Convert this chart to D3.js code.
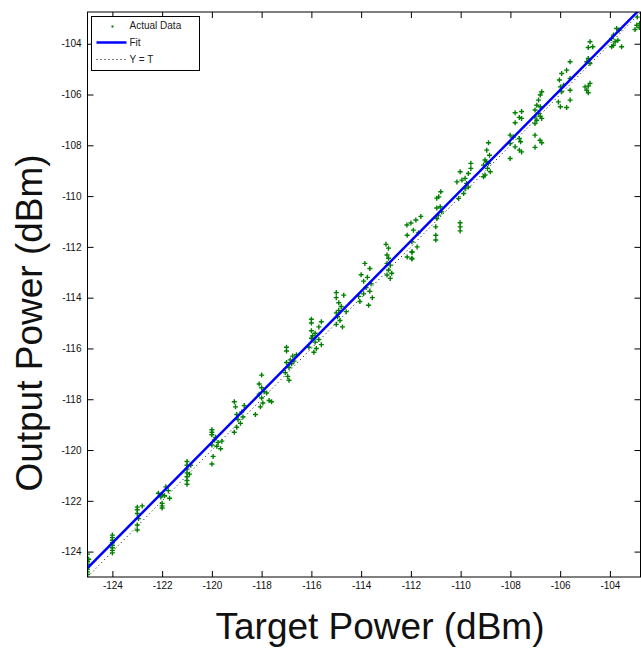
<!DOCTYPE html>
<html>
<head>
<meta charset="utf-8">
<script src="https://d3js.org/d3.v7.min.js"></script>
<style>
  body { margin: 0; background: #fff; }
  svg { display: block; font-family: "Liberation Sans", Arial, sans-serif; }
  .axis text { font-size: 10px; fill: #111; }
  .axis line { stroke: #000; }
</style>
</head>
<body>
<div id="graph"></div>
<script>
// axis range (dBm) and tick values
var axisMin = -125;
var axisMax = -102.75;
var tickValues = [-124, -122, -120, -118, -116, -114, -112, -110, -108, -106, -104];

// measured points: target power (x) and output power (y)
var targetPower = [
  -125, -125, -125, -125, -125, -125, -125, -124.95,
  -124, -124, -124, -124, -124, -124, -124, -124,
  -123, -123, -123, -122.95, -123, -123, -122.8,
  -122.15, -121.85, -122, -121.75, -122.05, -121.7, -122, -122, -122, -121.9,
  -121, -121, -121, -121, -121, -121, -121, -120.85, -120.9,
  -120, -120, -120, -119.9, -119.75, -119.6, -119.85, -120, -119.65, -119.95, -120, -119.8,
  -119.1, -119.05, -118.8, -119, -118.75, -118.95, -118.85, -119, -119.1, -118.25, -118.7,
  -118, -118.1, -118, -117.9, -118.1, -117.8, -118, -117.7, -117.6, -117.95, -118.05,
  -117, -117, -116.75, -116.6, -116.85, -117, -116.8, -116.9, -117.05, -116.95, -116.9, -116.7,
  -116, -116, -115.6, -115.7, -116, -115.85, -116, -115.7, -115.85, -116.1, -115.8, -115.9, -115.6, -115.95,
  -115, -114.7, -115, -114.9, -114.8, -114.9, -115, -114.95, -114.85, -115, -114.6, -114.75,
  -113.85, -113.65, -114, -113.75, -113.9, -113.6, -113.8, -113.65, -113.9, -113.55, -114.05, -113.7, -114.1,
  -112.96, -112.9, -112.96, -112.83, -112.9, -112.77, -112.96, -112.83, -113, -112.9,
  -112.16, -112, -112.15, -111.96, -111.9, -111.8, -111.6, -111.75, -112.15, -111.96, -111.95, -111.7, -111.96, -111.96,
  -110.8, -110.88, -110.96, -110.82, -110.96, -110.9, -110.76, -110.96, -111, -111, -111, -110.02, -110.02, -110.02,
  -110.02, -110.15, -109.95, -109.82, -109.69, -109.59, -109.59, -109.76, -109.82, -109.69, -110.08, -109.88,
  -108.88, -108.95, -108.84, -109.02, -108.88, -109.08, -108.92, -108.81, -109.02, -109.08, -108.97,
  -107.81, -107.64, -107.81, -108.01, -107.88, -107.64, -108.01, -107.81, -107.59, -107.64, -108.01, -107.55,
  -107.01, -106.81, -106.74, -107.01,
  -106.8, -106.74, -106.87, -106.94, -106.8, -107.01, -106.87, -107.01, -106.8, -106.94, -106.74, -107.01, -107.55, -107.55,
  -105.6, -105.74, -105.94, -106.03, -105.6, -105.99, -105.86, -105.6, -105.94, -106.07, -105.6, -105.99, -105.74,
  -104.8, -104.69, -104.87, -104.87, -104.93, -104.8, -105, -104.87, -104.93, -104.8, -104.87,
  -103.73, -103.63, -103.86, -103.93, -103.79, -103.93, -103.86, -103.53, -103.68,
  -102.92, -102.82, -102.99, -102.8, -102.9
];
var outputPower = [
  -124.1, -124.4, -124.5, -124.6, -124.7, -124.8, -124.9, -124.3,
  -123.35, -123.45, -123.55, -123.65, -123.75, -123.85, -123.95, -124.05,
  -122.25, -122.35, -122.5, -122.7, -122.95, -123.15, -122.2,
  -121.7, -121.45, -121.75, -121.6, -121.85, -121.9, -122.1, -122.2, -122.28, -121.8,
  -120.45, -120.6, -120.75, -120.9, -121.05, -121.2, -121.35, -120.6, -120.95,
  -119.2, -119.3, -119.4, -119.6, -119.7, -119.65, -119.5, -119.8, -119.95, -120.25, -120.55, -119.85,
  -118.1, -118.3, -118.5, -118.6, -118.7, -118.8, -118.95, -119.1, -119.3, -118.6, -118.25,
  -117.05, -117.4, -117.55, -117.7, -117.8, -117.75, -117.95, -118.05, -118.1, -118.15, -118.3,
  -115.95, -116.1, -116.3, -116.25, -116.45, -116.55, -116.6, -116.75, -116.95, -117.1, -117.25, -116.5,
  -114.85, -115.0, -114.95, -115.15, -115.3, -115.4, -115.6, -115.65, -115.75, -115.95, -116.0, -116.15, -115.85, -115.5,
  -113.8, -113.9, -114.0, -114.2, -114.35, -114.5, -114.6, -114.75, -114.9, -115.05, -114.55, -115.15,
  -112.65, -112.85, -113.1, -113.2, -113.35, -113.45, -113.6, -113.75, -113.85, -114.0, -114.15, -114.3, -113.95,
  -112.32, -112.45, -112.65, -112.72, -112.91, -113.04, -113.11, -113.24, -111.9, -112.05,
  -111.14, -111.06, -111.54, -111.8, -111.34, -110.94, -110.8, -112.0, -112.4, -112.48, -112.2, -111.45, -112.2, -112.45,
  -109.83, -110.03, -110.08, -110.42, -110.47, -110.75, -110.62, -110.88, -111.21, -111.54, -111.73, -111.05, -111.21, -111.37,
  -109.04, -109.44, -109.37, -109.3, -109.11, -108.71, -108.91, -109.5, -109.7, -109.64, -110.09, -109.9,
  -107.9, -108.19, -108.39, -108.58, -108.71, -108.78, -108.91, -109.04, -109.17, -109.24, -108.65,
  -106.72, -106.9, -107.11, -107.6, -107.67, -107.73, -107.93, -108.06, -107.86, -108.19, -108.52, -108.26,
  -107.6, -107.8, -107.9, -108.08,
  -106.02, -105.89, -106.22, -106.42, -106.48, -106.61, -106.74, -106.88, -106.85, -107.01, -106.94, -107.14, -106.67, -106.94,
  -104.71, -105.04, -105.17, -105.43, -105.37, -105.7, -105.63, -105.83, -105.89, -106.29, -106.22, -106.48, -106.51,
  -103.92, -104.12, -104.15, -104.58, -104.71, -104.78, -105.7, -105.67, -105.83, -105.56, -105.93,
  -103.4, -103.46, -103.66, -103.79, -103.92, -104.12, -104.06, -104.12, -103.86,
  -103.27, -103.36, -103.44, -103.2, -102.95
];

// fitted line end points
var fitX = [-125, -102.75];
var fitY = [-124.65, -102.6];

// legend entries
var legendLabels = ["Actual Data", "Fit", "Y = T"];

var width = 641;
var height = 648;
var margin = {top: 12, right: 0, bottom: 71, left: 87.5};

var svg = d3.select("#graph")
    .append("svg")
    .attr("width", width)
    .attr("height", height);

var x = d3.scaleLinear()
    .domain([axisMin, axisMax])
    .range([margin.left, width - margin.right]);

var y = d3.scaleLinear()
    .domain([axisMin, axisMax])
    .range([height - margin.bottom, margin.top]);

svg.append("clipPath")
    .attr("id", "plotclip")
    .append("rect")
    .attr("x", x(axisMin))
    .attr("y", y(axisMax))
    .attr("width", x(axisMax) - x(axisMin))
    .attr("height", y(axisMin) - y(axisMax));

var plot = svg.append("g").attr("clip-path", "url(#plotclip)");

// Y = T reference line
plot.append("line")
    .attr("x1", x(axisMin))
    .attr("y1", y(axisMin))
    .attr("x2", x(axisMax))
    .attr("y2", y(axisMax))
    .style("stroke", "#000")
    .style("stroke-width", 1)
    .style("stroke-dasharray", "1,3");

// data markers
var points = targetPower.map(function(d, i) { return [d, outputPower[i]]; });
plot.selectAll(".pt")
    .data(points)
    .enter().append("path")
    .attr("class", "pt")
    .attr("d", "M-2.5,0H2.5M0,-2.5V2.5")
    .attr("transform", function(d) { return "translate(" + x(d[0]) + "," + y(d[1]) + ")"; })
    .style("stroke", "#008000")
    .style("stroke-width", 1.4)
    .style("fill", "none");

// fit line
plot.append("line")
    .attr("x1", x(fitX[0]))
    .attr("y1", y(fitY[0]))
    .attr("x2", x(fitX[1]))
    .attr("y2", y(fitY[1]))
    .style("stroke", "#0000ff")
    .style("stroke-width", 2.5);

// axes, ticks pointing inward
var fmt = function(d) { return String(d); };

svg.append("g")
    .attr("class", "axis")
    .attr("transform", "translate(0," + y(axisMin) + ")")
    .call(d3.axisBottom(x).tickValues(tickValues).tickSize(-6).tickPadding(5).tickFormat(fmt))
    .call(function(g) { g.select(".domain").remove(); });

svg.append("g")
    .attr("class", "axis")
    .attr("transform", "translate(" + x(axisMin) + ",0)")
    .call(d3.axisLeft(y).tickValues(tickValues).tickSize(-6).tickPadding(6).tickFormat(fmt))
    .call(function(g) { g.select(".domain").remove(); });

svg.append("g")
    .attr("class", "axis")
    .attr("transform", "translate(0," + y(axisMax) + ")")
    .call(d3.axisTop(x).tickValues(tickValues).tickSize(-6).tickFormat(""))
    .call(function(g) { g.select(".domain").remove(); });

svg.append("g")
    .attr("class", "axis")
    .attr("transform", "translate(" + (x(axisMax) - 0.5) + ",0)")
    .call(d3.axisRight(y).tickValues(tickValues).tickSize(-6).tickFormat(""))
    .call(function(g) { g.select(".domain").remove(); });

// frame
svg.append("rect")
    .attr("x", x(axisMin))
    .attr("y", y(axisMax))
    .attr("width", x(axisMax) - x(axisMin) - 0.5)
    .attr("height", y(axisMin) - y(axisMax))
    .style("fill", "none")
    .style("stroke", "#000")
    .style("stroke-width", 1);

// legend
var legend = svg.append("g").attr("transform", "translate(91.5,16.5)");
legend.append("rect")
    .attr("width", 108)
    .attr("height", 54)
    .style("fill", "#fff")
    .style("stroke", "#000")
    .style("stroke-width", 1);

legend.selectAll(".ltext")
    .data(legendLabels)
    .enter().append("text")
    .attr("class", "ltext")
    .attr("x", 38)
    .attr("y", function(d, i) { return 9 + i * 17; })
    .attr("dy", "0.35em")
    .style("font-size", "10px")
    .style("fill", "#222")
    .text(function(d) { return d; });

legend.append("rect")
    .attr("x", 20)
    .attr("y", 9)
    .attr("width", 2)
    .attr("height", 2)
    .style("fill", "#008000");

legend.append("line")
    .attr("x1", 5).attr("x2", 35)
    .attr("y1", 26).attr("y2", 26)
    .style("stroke", "#0000ff")
    .style("stroke-width", 2.5);

legend.append("line")
    .attr("x1", 5).attr("x2", 35)
    .attr("y1", 43).attr("y2", 43)
    .style("stroke", "#000")
    .style("stroke-width", 1)
    .style("stroke-dasharray", "1,3");

// axis titles
svg.append("text")
    .attr("x", 380)
    .attr("y", 639)
    .attr("text-anchor", "middle")
    .style("font-size", "37px")
    .style("fill", "#111")
    .text("Target Power (dBm)");

svg.append("text")
    .attr("transform", "translate(42,323) rotate(-90)")
    .attr("text-anchor", "middle")
    .style("font-size", "37px")
    .style("fill", "#111")
    .text("Output Power (dBm)");
</script>
</body>
</html>
